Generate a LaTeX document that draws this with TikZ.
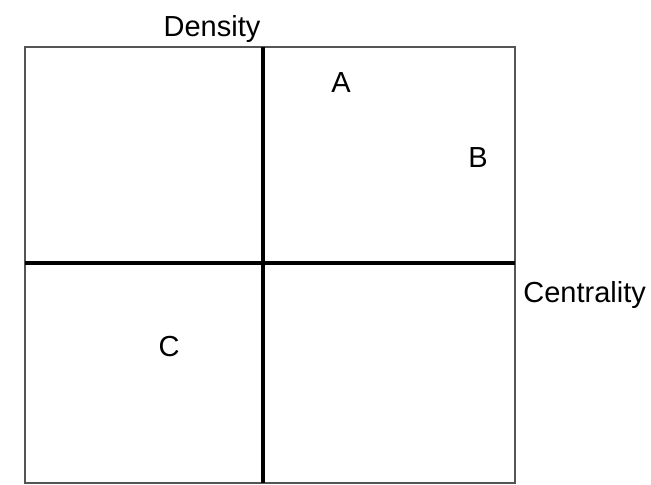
\documentclass[tikz,border=0pt]{standalone}
\usepackage{fontspec}
\setmainfont{Liberation Sans}
\usepackage{tikz}
\usetikzlibrary{positioning}
\definecolor{frameGrey}{HTML}{555555}

\begin{document}
\begin{tikzpicture}[
    x=0.5pt, y=-0.5pt,
    frame/.style={draw=frameGrey, line width=0.75pt},
    axis/.style={draw=black, line width=2pt},
    lab/.style={font=\fontsize{14.5}{17}\selectfont, inner sep=0pt, anchor=base},
  ]
  \useasboundingbox (0,0) rectangle (651,484);

  % quadrant frame
  \coordinate (nw) at (25,47);
  \coordinate (se) at (515,483);
  \coordinate (top) at (263,47);
  \coordinate (bot) at (263,483);
  \coordinate (lft) at (25,263);
  \coordinate (rgt) at (515,263);

  \draw[frame] (nw) rectangle (se);
  \draw[axis] (top) -- (bot);
  \draw[axis] (lft) -- (rgt);

  % axis labels
  \node[lab] (dens) at (212,36) {Density};
  \node[lab, anchor=base west] (cent) at (523,302) {Centrality};

  % points
  \node[lab] (ptA) at (341,92) {A};
  \node[lab] (ptB) at (478,167) {B};
  \node[lab] (ptC) at (169,356) {C};

\end{tikzpicture}
\end{document}
